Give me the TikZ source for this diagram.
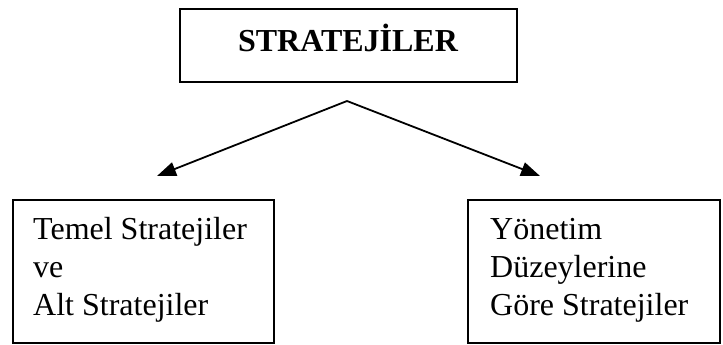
\documentclass[tikz,border=0pt]{standalone}
\usepackage{fontspec}
\setmainfont{Liberation Serif}
\usetikzlibrary{arrows.meta}
\begin{document}
\begin{tikzpicture}[x=1pt,y=-1pt,
  frame/.style={draw=black,line width=2pt,inner sep=0pt},
  caption/.style={inner sep=0pt,align=left,font=\fontsize{32}{38}\selectfont},
  link/.style={line width=1.8pt,-{Triangle[length=19pt,width=14pt]}}]
\useasboundingbox (0,0) rectangle (723,345);
% boxes
\node[frame,minimum width=337pt,minimum height=73pt] (top) at (348.5,45.5) {};
\node[frame,minimum width=261pt,minimum height=143pt] (left) at (143.5,271.5) {};
\node[frame,minimum width=252pt,minimum height=143pt] (right) at (594,271.5) {};
% texts (base anchor sits on the last line)
\node[caption,anchor=base,font=\fontsize{32}{38}\selectfont\bfseries] (toptext) at (348,52) {STRATEJİLER};
\node[caption,anchor=base west] (lefttext) at (33,315) {Temel Stratejiler\\ve\\Alt Stratejiler};
\node[caption,anchor=base west] (righttext) at (490,315) {Yönetim\\Düzeylerine\\Göre Stratejiler};
% arrows
\coordinate (fork) at (347,101);
\coordinate (lefttip) at (157,176);
\coordinate (righttip) at (540,176);
\draw[link] (fork) -- (lefttip);
\draw[link] (fork) -- (righttip);
\end{tikzpicture}
\end{document}
